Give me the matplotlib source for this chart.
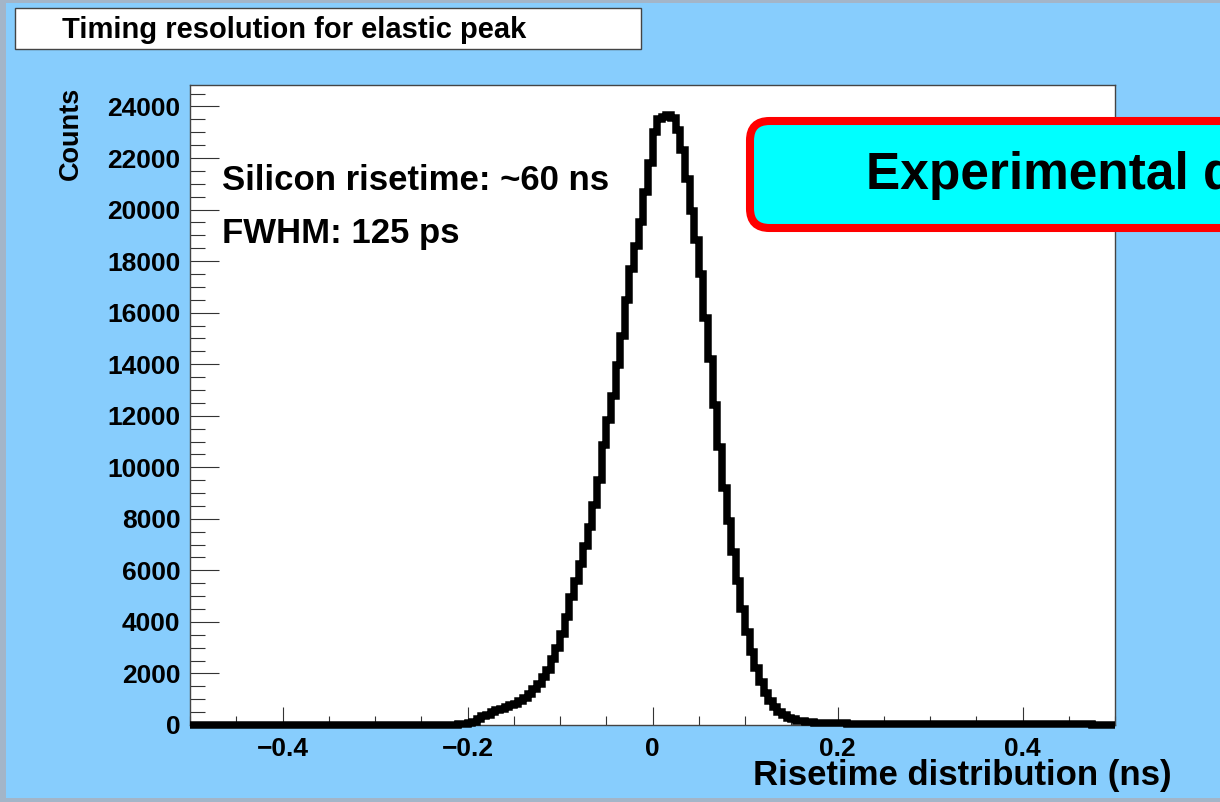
import matplotlib
matplotlib.use("Agg")
import matplotlib.pyplot as plt
from matplotlib.patches import Rectangle, FancyBboxPatch
from matplotlib.ticker import FixedLocator, MultipleLocator
import numpy as np

# risetime histogram: 200 bins of 0.005 ns between -0.5 and 0.5 ns
bin_lo, bin_hi, n_bins = -0.5, 0.5, 200
counts = [
    0, 0, 0, 0, 0, 0, 0, 0, 0, 0, 0, 0, 0, 0, 0, 0, 0, 0, 0, 0,
    0, 0, 0, 0, 0, 0, 0, 0, 0, 0, 0, 0, 0, 0, 0, 0, 0, 0, 0, 0,
    0, 0, 0, 0, 0, 0, 0, 0, 0, 0, 0, 0, 0, 0, 0, 0,
    10, 15, 20, 30, 60, 120, 250, 330, 400, 500,
    570, 630, 700, 760, 830, 920, 1050, 1200, 1380, 1600,
    1850, 2150, 2550, 3000, 3550, 4200, 4950, 5600, 6250, 6950,
    7700, 8550, 9500, 10850, 11850, 12750, 13950, 15100, 16500, 17700,
    18600, 19500, 20700, 21800, 23000, 23500, 23600, 23650, 23550, 23100,
    22300, 21200, 19950, 18800, 17500, 15800, 14200, 12400, 10800, 9200,
    7900, 6700, 5600, 4500, 3600, 2850, 2200, 1650, 1250, 920,
    680, 500, 380, 290, 220, 170, 140, 115, 100, 90,
    80, 75, 70, 65,
    62, 60, 58, 57, 55, 54, 52, 51, 50, 49, 48, 47, 46, 45, 44, 43, 42, 41, 40, 40,
    39, 38, 37, 36, 36, 35, 34, 34, 33, 32, 32, 31, 30, 30, 29, 29, 28, 27, 27, 26,
    26, 25, 25, 24, 24, 23, 23, 22, 22, 22, 21, 21, 20, 20, 20, 19, 19, 18, 18, 18,
]

x_ticks = [-0.4, -0.2, 0.0, 0.2, 0.4]
x_tick_labels = ["\u22120.4", "\u22120.2", "0", "0.2", "0.4"]
y_ticks = [0, 2000, 4000, 6000, 8000, 10000, 12000, 14000, 16000,
           18000, 20000, 22000, 24000]

title_text = "Timing resolution for elastic peak"
notes = ["Silicon risetime: ~60 ns", "FWHM: 125 ps"]
banner_text = "Experimental data"

W, H = 1220, 802
plt.rcParams["font.family"] = ["Liberation Sans", "DejaVu Sans"]
plt.rcParams["font.weight"] = "bold"

fig = plt.figure(figsize=(W / 100, H / 100), dpi=100)
fig.patch.set_facecolor("#a3b5c8")


def fx(x):
    return x / W


def fy(y):
    return 1 - y / H


# pad colour
fig.patches.append(Rectangle((fx(6), fy(798)), fx(1214), 795 / H,
                             transform=fig.transFigure,
                             facecolor="#87cdfd", edgecolor="none",
                             zorder=-10))

# title box
fig.patches.append(Rectangle((fx(15), fy(49)), fx(626), 41 / H,
                             transform=fig.transFigure, facecolor="white",
                             edgecolor="#444444", linewidth=1.0, zorder=1))
fig.text(fx(62), fy(30), title_text, fontsize=21, fontweight="bold",
         va="center", ha="left")

ax = fig.add_axes([fx(190), fy(725), fx(925), (725 - 85) / H])
ax.set_zorder(2)
ax.set_facecolor("white")

edges = np.linspace(bin_lo, bin_hi, n_bins + 1)
ax.stairs(counts, edges, color="black", linewidth=5.4, baseline=0,
          clip_on=False, zorder=3)

ax.set_xlim(bin_lo, bin_hi)
ax.set_ylim(0, 1.05 * max(counts))

for s in ax.spines.values():
    s.set_color("#444444")
    s.set_linewidth(1.0)

ax.xaxis.set_major_locator(FixedLocator(x_ticks))
ax.set_xticklabels(x_tick_labels)
ax.xaxis.set_minor_locator(MultipleLocator(0.05))
ax.yaxis.set_major_locator(FixedLocator(y_ticks))
ax.set_yticklabels([str(v) for v in y_ticks])
ax.yaxis.set_minor_locator(MultipleLocator(500))

ax.tick_params(axis="x", which="major", direction="in", length=13, width=0.8,
               color="#333333", labelsize=19, pad=9, top=False)
ax.tick_params(axis="x", which="minor", direction="in", length=6.5, width=0.8,
               color="#333333", top=False)
ax.tick_params(axis="y", which="major", direction="in", length=21, width=0.8,
               color="#333333", labelsize=19, pad=7, right=False)
ax.tick_params(axis="y", which="minor", direction="in", length=10.5,
               width=0.8, color="#333333", right=False)
for lab in ax.get_xticklabels() + ax.get_yticklabels():
    lab.set_fontweight("bold")

# axis titles, ROOT style (flush with the right / top end)
fig.text(fx(1172), fy(775), "Risetime distribution (ns)", fontsize=25,
         fontweight="bold", ha="right", va="center", zorder=3)
fig.text(fx(71), fy(87), "Counts", fontsize=19.5, fontweight="bold",
         rotation=90, ha="center", va="top", zorder=3)

# annotations inside the frame
fig.text(fx(222), fy(181), notes[0], fontsize=25, fontweight="bold",
         ha="left", va="center", zorder=4)
fig.text(fx(222), fy(234), notes[1], fontsize=25, fontweight="bold",
         ha="left", va="center", zorder=4)

# banner running off the right edge
banner = FancyBboxPatch((fx(750), fy(228)), fx(520), 107 / H,
                        boxstyle="round,pad=0,rounding_size=0.016",
                        mutation_aspect=W / H, transform=fig.transFigure,
                        facecolor="#00ffff", edgecolor="#ff0000",
                        linewidth=5.8, zorder=5)
fig.patches.append(banner)
fig.text(fx(866), fy(175), banner_text, fontsize=37, fontweight="bold",
         ha="left", va="center", zorder=6)

fig.savefig("out.png", dpi=100, facecolor=fig.get_facecolor())
